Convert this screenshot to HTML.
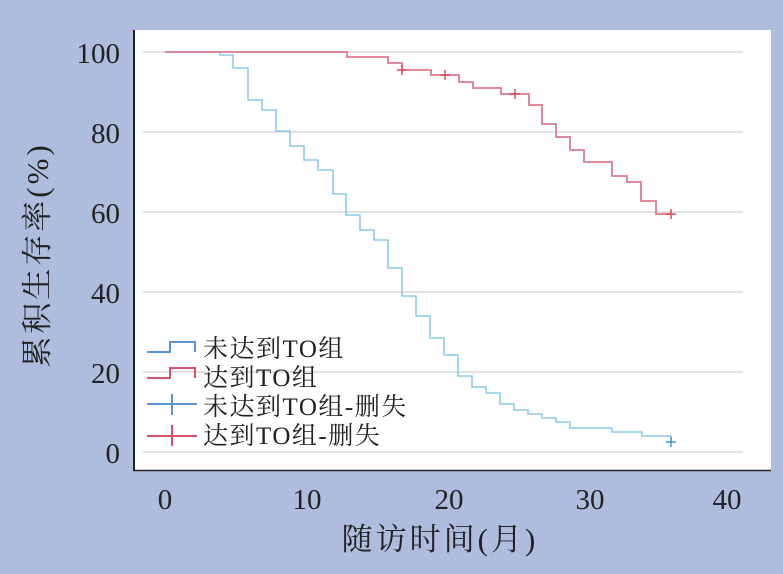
<!DOCTYPE html>
<html><head><meta charset="utf-8"><style>
html,body{margin:0;padding:0;background:#aebcde;}
svg{display:block}
text{font-family:"Liberation Serif","Noto Serif CJK SC","Noto Sans CJK SC",serif;fill:#222;}
</style></head><body>
<svg width="783" height="574" viewBox="0 0 783 574">
<rect x="0" y="0" width="783" height="574" fill="#aebcde"/>
<rect x="133" y="30" width="638" height="440" fill="#fff"/>
<g stroke="#d8d8d8" stroke-width="1.5">
<line x1="143" y1="52" x2="743" y2="52"/>
<line x1="143" y1="132" x2="743" y2="132"/>
<line x1="143" y1="212" x2="743" y2="212"/>
<line x1="143" y1="292" x2="743" y2="292"/>
<line x1="143" y1="372" x2="743" y2="372"/>
<line x1="143" y1="452" x2="743" y2="452"/>
</g>
<line x1="134" y1="30" x2="134" y2="471" stroke="#222" stroke-width="2"/>
<line x1="133" y1="470.5" x2="771" y2="470.5" stroke="#222" stroke-width="1.5"/>
<g font-size="29" text-anchor="end">
<text x="120" y="63">100</text>
<text x="120" y="143">80</text>
<text x="120" y="223">60</text>
<text x="120" y="303">40</text>
<text x="120" y="383">20</text>
<text x="120" y="463">0</text>
</g>
<g font-size="29" text-anchor="middle">
<text x="165" y="509">0</text>
<text x="307" y="509">10</text>
<text x="449" y="509">20</text>
<text x="590" y="509">30</text>
<text x="727" y="509">40</text>
</g>
<text x="440" y="550" font-size="31" letter-spacing="3" text-anchor="middle">随访时间(月)</text>
<text transform="translate(48,255) rotate(-90)" font-size="31" letter-spacing="3" text-anchor="middle">累积生存率(%)</text>
<path fill="none" stroke="#8ccbea" stroke-width="1.6" d="M165,52 H220 V55 H233 V68 H248 V100 H262 V110 H276 V131 H290 V146 H304 V160 H318 V170 H333 V194 H346 V215 H360 V230 H374 V240 H388 V268 H402 V296 H416 V316 H430 V338 H444 V355 H458 V376 H472 V387 H486 V393 H500 V404 H514 V410 H528 V414 H542 V418 H556 V422 H570 V428 H612 V432 H642 V436 H671 V442"/>
<path fill="none" stroke="#dc7a8e" stroke-width="1.8" d="M165,52 H347 V57 H388 V63 H402 V70 H431 V75 H459 V82 H473 V88 H501 V94 H529 V105 H542 V124 H556 V137 H570 V150 H584 V162 H612 V176 H627 V182 H641 V201 H656 V214 H671"/>
<g stroke="#e04a5a" stroke-width="1.5">
<path d="M402,65v10M397,70h10"/><path d="M445,70v10M440,75h10"/><path d="M515,89v10M510,94h10"/><path d="M671,209v10M666,214h10"/>
</g>
<path stroke="#3c9ad8" stroke-width="1.5" d="M671,437v10M666,442h10"/>
<g fill="none" stroke-width="2">
<path stroke="#5b94d6" d="M147,352 H170 V342 H195 V352"/>
<path stroke="#d8506c" d="M147,378 H170 V368 H195 V378"/>
<path stroke="#5b94d6" d="M147,404 H197 M172,394 V415"/>
<path stroke="#d8506c" d="M147,436 H197 M172,425 V446"/>
</g>
<g font-size="25" letter-spacing="1.5">
<text x="203" y="357">未达到TO组</text>
<text x="203" y="386">达到TO组</text>
<text x="203" y="415">未达到TO组-删失</text>
<text x="203" y="444">达到TO组-删失</text>
</g>
</svg>
</body></html>
